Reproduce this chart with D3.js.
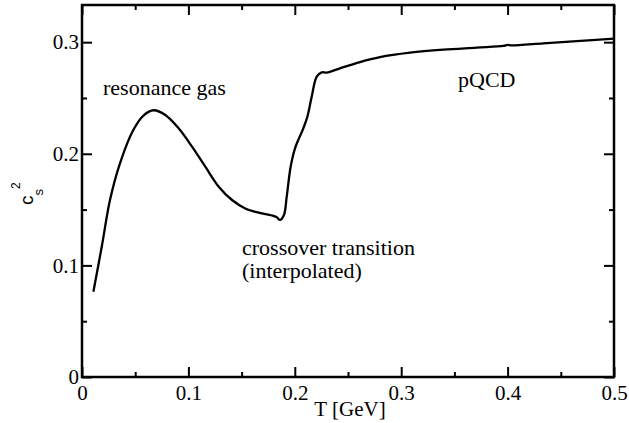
<!DOCTYPE html>
<html>
<head>
<meta charset="utf-8">
<script src="https://cdn.jsdelivr.net/npm/d3@7"></script>
<style>
  html, body { margin: 0; padding: 0; background: #fff; }
  svg { display: block; }
  .tick line { stroke: #000; stroke-width: 2; }
</style>
</head>
<body>
<svg id="chart" width="629" height="423"></svg>
<script>
// speed of sound squared vs temperature
const T = [0.0107, 0.0188, 0.0263, 0.0357, 0.0482, 0.058, 0.0673, 0.0783,
  0.0908, 0.1034, 0.1159, 0.1285, 0.141, 0.1535, 0.166, 0.180, 0.183, 0.186,
  0.1898, 0.1924, 0.1961, 0.2002, 0.208, 0.2118, 0.2159, 0.2206, 0.2253, 0.230,
  0.2425, 0.2613, 0.280, 0.3083, 0.3396, 0.371, 0.396, 0.400, 0.404, 0.4336,
  0.465, 0.500];
const cs2 = [0.0764, 0.118, 0.1586, 0.1915, 0.2213, 0.2345, 0.239, 0.2348,
  0.2228, 0.2064, 0.1884, 0.1705, 0.1586, 0.151, 0.1472, 0.1443, 0.1432, 0.1407,
  0.1452, 0.1616, 0.1884, 0.2049, 0.2228, 0.2332, 0.2512, 0.2691, 0.273, 0.2727,
  0.2766, 0.2822, 0.2866, 0.2906, 0.2933, 0.2951, 0.2966, 0.2975, 0.2972, 0.299,
  0.301, 0.3031];

const xMajor = [0, 0.1, 0.2, 0.3, 0.4, 0.5];
const xMinor = [0.05, 0.15, 0.25, 0.35, 0.45];
const yMajor = [0, 0.1, 0.2, 0.3];
const yMinor = [0.05, 0.15, 0.25];
const yLabels = ["0", "0.1", "0.2", "0.3"];
const xLabels = ["0", "0.1", "0.2", "0.3", "0.4", "0.5"];

const SERIF = "'Liberation Serif', 'Times New Roman', serif";
const SANS = "'Liberation Sans', 'DejaVu Sans', sans-serif";

const svg = d3.select("#chart");
const frame = { left: 82, right: 614, top: 5, bottom: 377 };

const x = d3.scaleLinear().domain([0, 0.5]).range([frame.left, frame.right]);
const y = d3.scaleLinear().domain([0, 0.3333]).range([frame.bottom, frame.top]);

function axis(gen, tr, vals, size, labels, pad) {
  const g = svg.append("g").attr("transform", tr)
    .call(gen.tickValues(vals).tickSize(-size).tickPadding(pad || 3)
      .tickFormat(labels ? (d, i) => labels[i] : ""));
  g.select(".domain").remove();
  g.attr("font-family", null).attr("font-size", null);
  g.selectAll("text")
    .style("font-family", SERIF).style("font-size", "21px").style("fill", "#000");
  return g;
}

// bottom / left with labels, top / right ticks only (all pointing inward)
axis(d3.axisBottom(x), `translate(0,${frame.bottom})`, xMajor, 10, xLabels, 8);
axis(d3.axisBottom(x), `translate(0,${frame.bottom})`, xMinor, 5);
axis(d3.axisTop(x), `translate(0,${frame.top})`, xMajor, 10);
axis(d3.axisTop(x), `translate(0,${frame.top})`, xMinor, 5);
axis(d3.axisLeft(y), `translate(${frame.left},0)`, yMajor, 10, yLabels, 3);
axis(d3.axisLeft(y), `translate(${frame.left},0)`, yMinor, 5);
axis(d3.axisRight(y), `translate(${frame.right},0)`, yMajor, 10);
axis(d3.axisRight(y), `translate(${frame.right},0)`, yMinor, 5);

svg.append("rect")
  .attr("x", frame.left).attr("y", frame.top)
  .attr("width", frame.right - frame.left).attr("height", frame.bottom - frame.top)
  .attr("fill", "none").attr("stroke", "#000").attr("stroke-width", 2.5);

const line = d3.line()
  .x((d, i) => x(T[i]))
  .y(d => y(d))
  .curve(d3.curveCatmullRom.alpha(0.5));

svg.append("path")
  .datum(cs2)
  .attr("d", line)
  .attr("fill", "none")
  .attr("stroke", "#000")
  .attr("stroke-width", 2.3)
  .attr("stroke-linejoin", "round");

// annotations
function note(px, py, str, size) {
  return svg.append("text").attr("x", px).attr("y", py)
    .style("font-family", SERIF).style("font-size", (size || 22) + "px")
    .style("fill", "#000").text(str);
}
note(103, 95, "resonance gas");
note(458, 87, "pQCD");
note(242, 255, "crossover transition");
note(242, 278, "(interpolated)");

// axis titles
note(350, 416, "T [GeV]", 21).attr("text-anchor", "middle");

const yt = svg.append("text")
  .attr("transform", "translate(33,205) rotate(-90)")
  .style("font-family", SANS)
  .style("fill", "#000");
yt.append("tspan").style("font-size", "19px").text("c");
yt.append("tspan").style("font-size", "13px").attr("dy", 10).text("s");
yt.append("tspan").style("font-size", "12px").attr("dy", -23).text("2");
</script>
</body>
</html>
